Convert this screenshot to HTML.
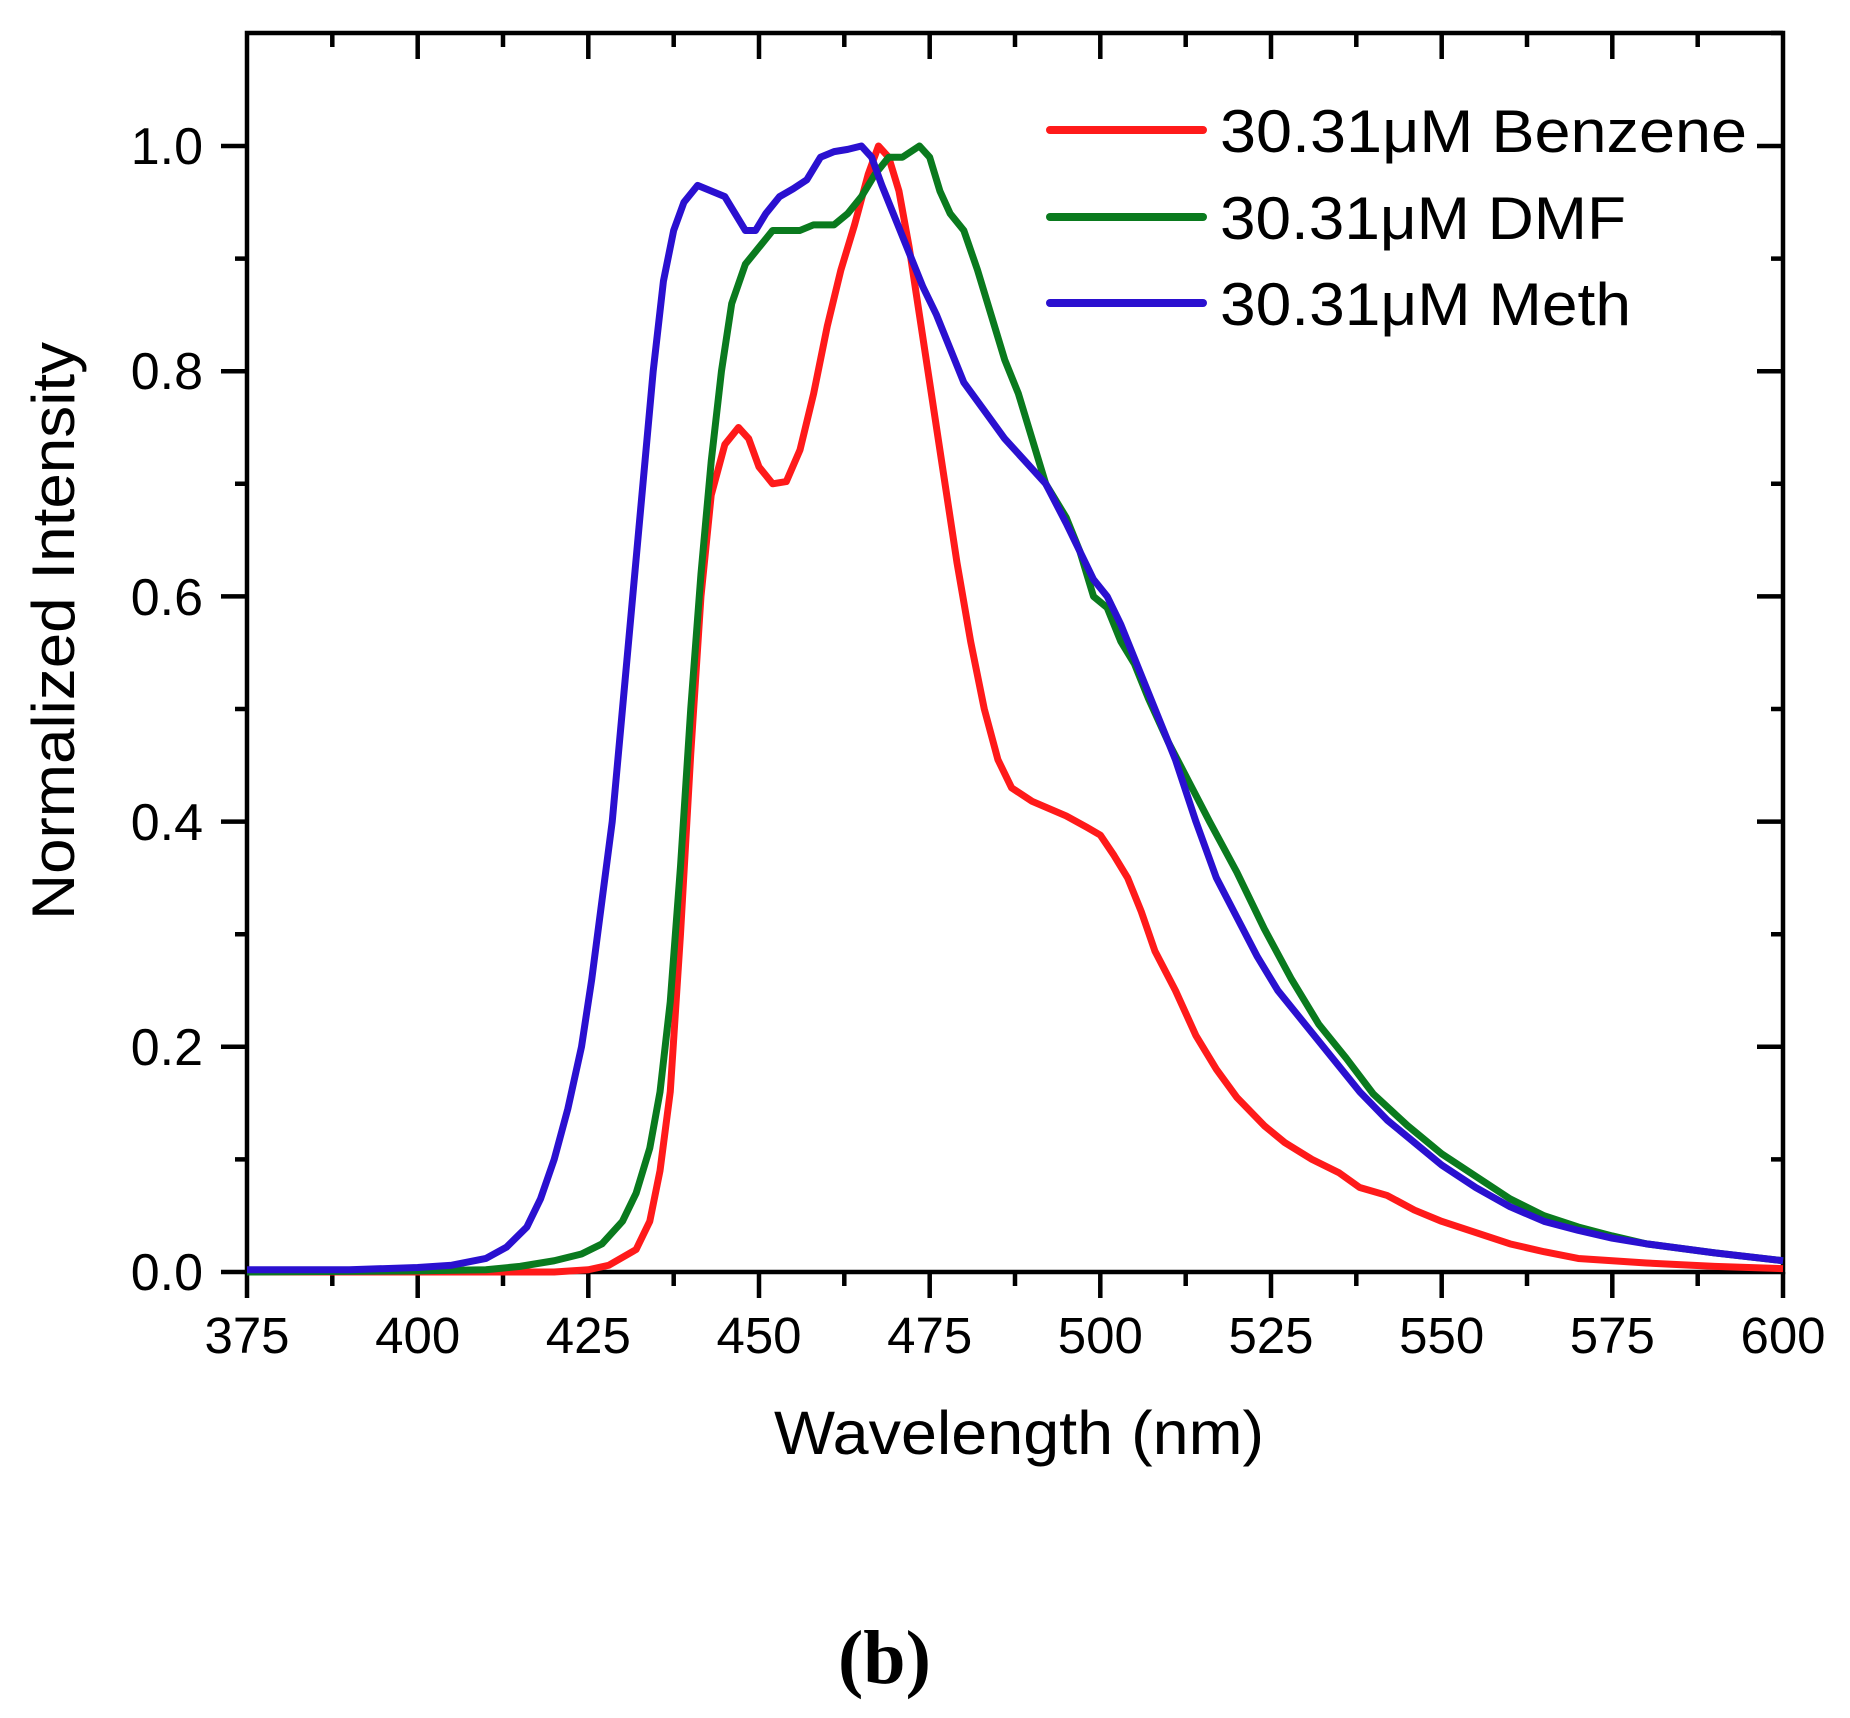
<!DOCTYPE html>
<html><head><meta charset="utf-8"><style>html,body{margin:0;padding:0;background:#fff}svg{display:block}</style></head>
<body>
<svg width="1850" height="1718" viewBox="0 0 1850 1718" xmlns="http://www.w3.org/2000/svg" font-family="Liberation Sans, Arial, sans-serif">
<rect width="1850" height="1718" fill="#fff"/>
<g stroke="#000" stroke-width="4.5" fill="none">
<rect x="247" y="33" width="1536" height="1239"/>
<path d="M247 1272v26M417.7 1272v26M588.3 1272v26M759 1272v26M929.7 1272v26M1100.3 1272v26M1271 1272v26M1441.7 1272v26M1612.3 1272v26M1783 1272v26"/>
<path d="M332.3 1272v14M503 1272v14M673.7 1272v14M844.3 1272v14M1015 1272v14M1185.7 1272v14M1356.3 1272v14M1527 1272v14M1697.7 1272v14"/>
<path d="M417.7 33v26M588.3 33v26M759 33v26M929.7 33v26M1100.3 33v26M1271 33v26M1441.7 33v26M1612.3 33v26"/>
<path d="M332.3 33v14M503 33v14M673.7 33v14M844.3 33v14M1015 33v14M1185.7 33v14M1356.3 33v14M1527 33v14M1697.7 33v14"/>
<path d="M221 1272h26M221 1046.8h26M221 821.6h26M221 596.4h26M221 371.2h26M221 146h26"/>
<path d="M235 1159.4h12M235 934.2h12M235 709h12M235 483.8h12M235 258.6h12"/>
<path d="M1757 1046.8h26M1757 821.6h26M1757 596.4h26M1757 371.2h26M1757 146h26"/>
<path d="M1771 1159.4h12M1771 934.2h12M1771 709h12M1771 483.8h12M1771 258.6h12M1771 33h12"/>
</g>
<g font-size="51" text-anchor="middle" fill="#000">
<text x="247" y="1353">375</text><text x="417.7" y="1353">400</text><text x="588.3" y="1353">425</text><text x="759" y="1353">450</text><text x="929.7" y="1353">475</text><text x="1100.3" y="1353">500</text><text x="1271" y="1353">525</text><text x="1441.7" y="1353">550</text><text x="1612.3" y="1353">575</text><text x="1783" y="1353">600</text>
</g>
<g font-size="52" text-anchor="end" fill="#000">
<text x="203" y="1290">0.0</text><text x="203" y="1065">0.2</text><text x="203" y="840">0.4</text><text x="203" y="615">0.6</text><text x="203" y="389">0.8</text><text x="203" y="164">1.0</text>
</g>
<text x="774" y="1454" font-size="61" textLength="490" lengthAdjust="spacingAndGlyphs">Wavelength (nm)</text>
<text transform="translate(74,920) rotate(-90)" font-size="60" textLength="578" lengthAdjust="spacingAndGlyphs">Normalized Intensity</text>
<text x="838" y="1683" font-size="76" font-weight="bold" font-family="Liberation Serif, Times New Roman, serif">(b)</text>
<g stroke-width="8" stroke-linecap="round">
<line x1="1050" y1="130" x2="1203" y2="130" stroke="#ff1a1a"/>
<line x1="1050" y1="217" x2="1203" y2="217" stroke="#0a7a1e"/>
<line x1="1050" y1="303" x2="1203" y2="303" stroke="#2a10d0"/>
</g>
<g font-size="60" fill="#000">
<text x="1220" y="152" textLength="527" lengthAdjust="spacingAndGlyphs">30.31μM Benzene</text>
<text x="1220" y="239" textLength="406" lengthAdjust="spacingAndGlyphs">30.31μM DMF</text>
<text x="1220" y="325" textLength="411" lengthAdjust="spacingAndGlyphs">30.31μM Meth</text>
</g>
<g transform="translate(247,1272) scale(6.8267,-1126) translate(-375,0)" fill="none" stroke-width="7" stroke-linejoin="round">
<polyline vector-effect="non-scaling-stroke" stroke="#ff1a1a" points="375,0 420,0 425,0.002 428,0.006 432,0.02 434,0.045 435.5,0.09 437,0.16 438.5,0.3 440,0.46 441.5,0.6 443,0.69 445,0.735 447,0.75 448.5,0.74 450,0.715 452,0.7 454,0.702 456,0.73 458,0.78 460,0.84 462,0.89 464,0.93 466,0.975 467.5,1.0 469,0.99 470.5,0.96 472,0.91 473.5,0.85 475,0.79 477,0.71 479,0.63 481,0.56 483,0.5 485,0.455 487,0.43 490,0.418 495,0.405 498,0.395 500,0.388 502,0.37 504,0.35 506,0.32 508,0.285 511,0.25 514,0.21 517,0.18 520,0.155 524,0.13 527,0.115 531,0.1 535,0.088 538,0.075 542,0.068 546,0.055 550,0.045 555,0.035 560,0.025 565,0.018 570,0.012 580,0.008 590,0.005 600,0.003"/>
<polyline vector-effect="non-scaling-stroke" stroke="#0a7a1e" points="375,0 400,0.001 410,0.002 415,0.005 420,0.01 424,0.016 427,0.025 430,0.045 432,0.07 434,0.11 435.5,0.16 437,0.24 438.5,0.36 440,0.5 441.5,0.62 443,0.72 444.5,0.8 446,0.86 448,0.895 450,0.91 452,0.925 454,0.925 456,0.925 458,0.93 461,0.93 463,0.94 465,0.955 467,0.975 469,0.99 471,0.99 473.5,1.0 475,0.99 476.5,0.96 478,0.94 480,0.925 482,0.89 484,0.85 486,0.81 488,0.78 490,0.74 492,0.7 495,0.67 497,0.64 499,0.6 501,0.59 503,0.56 505,0.54 507,0.51 510,0.47 513,0.435 516,0.4 520,0.355 524,0.305 528,0.26 532,0.22 536,0.19 540,0.158 545,0.13 550,0.105 555,0.085 560,0.065 565,0.05 570,0.04 575,0.032 580,0.025 590,0.017 600,0.01"/>
<polyline vector-effect="non-scaling-stroke" stroke="#2a10d0" points="375,0.002 390,0.002 400,0.004 405,0.006 410,0.012 413,0.022 416,0.04 418,0.065 420,0.1 422,0.145 424,0.2 425.5,0.26 427,0.33 428.5,0.4 430,0.5 431.5,0.6 433,0.7 434.5,0.8 436,0.88 437.5,0.925 439,0.95 441,0.965 443,0.96 445,0.955 446.5,0.94 448,0.925 449.5,0.925 451,0.94 453,0.955 455,0.962 457,0.97 459,0.99 461,0.995 463,0.997 465,1.0 466.5,0.99 468,0.965 470,0.935 472,0.905 474,0.875 476,0.85 478,0.82 480,0.79 483,0.765 486,0.74 489,0.72 492,0.7 495,0.665 497,0.64 499,0.615 501,0.6 503,0.575 505,0.545 508,0.5 511,0.455 514,0.4 517,0.35 520,0.315 523,0.28 526,0.25 530,0.22 534,0.19 538,0.16 542,0.135 546,0.115 550,0.095 555,0.075 560,0.058 565,0.045 570,0.037 575,0.03 580,0.025 590,0.017 600,0.01"/>
</g>
</svg>
</body></html>
